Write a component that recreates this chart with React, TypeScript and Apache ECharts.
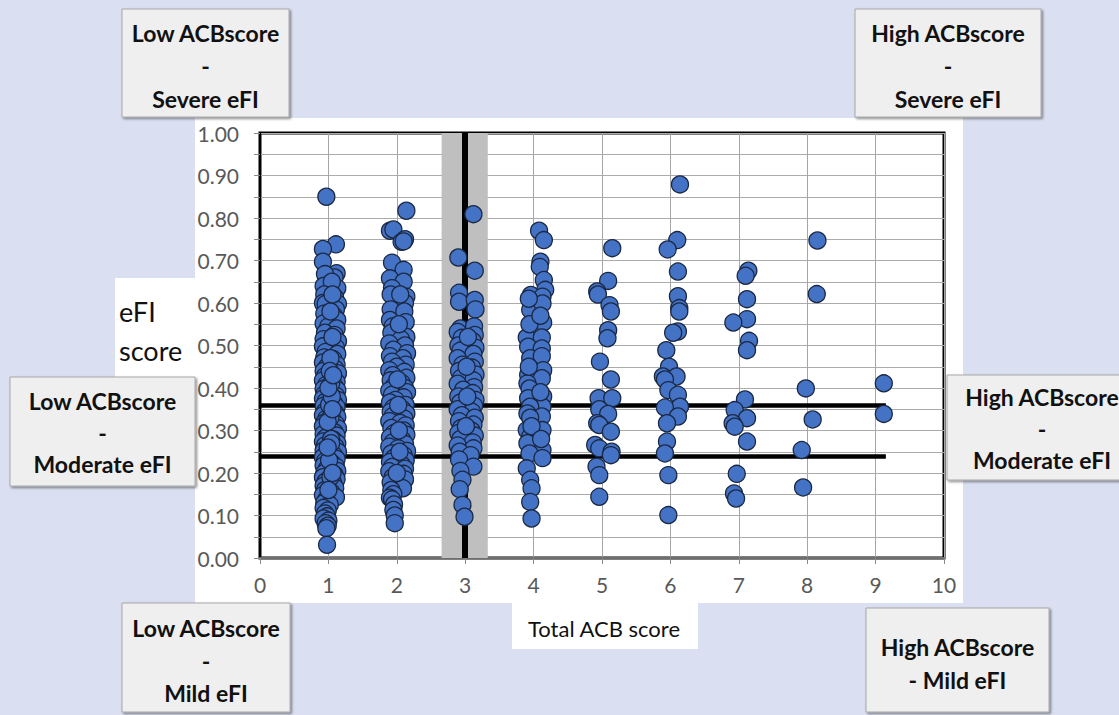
import React, { useEffect, useRef } from "react";
import * as echarts from "echarts";

// Total ACB score groups: [jittered x, eFI score]
const acb1: number[][] = [
  [0.97, 0.85], [1.11, 0.738], [0.92, 0.727], [0.92, 0.697], [1.12, 0.67], [1.09, 0.66], [0.95, 0.668], [0.93, 0.64],
  [1.13, 0.635], [1.05, 0.65], [0.94, 0.62], [1.1, 0.612], [0.92, 0.6], [0.96, 0.598], [1.14, 0.598], [1.11, 0.585],
  [0.94, 0.575], [1.08, 0.57], [1.13, 0.56], [0.93, 0.552], [1.0, 0.545], [1.12, 0.54], [0.95, 0.53], [1.09, 0.525],
  [0.93, 0.515], [1.14, 0.51], [1.02, 0.505], [0.92, 0.498], [1.11, 0.495], [0.96, 0.485], [1.13, 0.48], [0.94, 0.472],
  [1.07, 0.468], [0.92, 0.46], [1.12, 0.455], [0.98, 0.45], [1.1, 0.445], [0.93, 0.44], [1.14, 0.435], [0.95, 0.428],
  [1.05, 0.425], [0.92, 0.418], [1.12, 0.414], [0.97, 0.408], [1.09, 0.404], [0.93, 0.398], [1.13, 0.395], [1.01, 0.39],
  [0.94, 0.385], [1.11, 0.382], [0.92, 0.375], [1.14, 0.372], [0.96, 0.368], [1.08, 0.365], [0.93, 0.358], [1.12, 0.355],
  [1.0, 0.35], [0.95, 0.345], [1.1, 0.342], [0.92, 0.336], [1.13, 0.332], [0.97, 0.328], [1.06, 0.325], [0.94, 0.318],
  [1.11, 0.315], [0.92, 0.31], [1.14, 0.305], [0.99, 0.3], [1.09, 0.296], [0.93, 0.292], [1.12, 0.288], [0.96, 0.283],
  [1.07, 0.279], [0.92, 0.274], [1.13, 0.27], [0.95, 0.265], [1.1, 0.262], [1.02, 0.258], [0.93, 0.253], [1.14, 0.25],
  [0.97, 0.245], [1.08, 0.242], [0.92, 0.237], [1.12, 0.233], [0.95, 0.228], [1.05, 0.224], [0.93, 0.218], [1.11, 0.215],
  [0.98, 0.21], [1.13, 0.205], [0.94, 0.2], [1.09, 0.196], [0.92, 0.19], [1.12, 0.186], [0.96, 0.18], [1.07, 0.176],
  [0.93, 0.17], [1.1, 0.165], [0.95, 0.16], [1.04, 0.155], [0.92, 0.148], [1.11, 0.143], [0.97, 0.138], [0.94, 0.13],
  [1.02, 0.125], [0.93, 0.118], [0.99, 0.112], [0.95, 0.105], [0.98, 0.098], [0.93, 0.093], [1.0, 0.088], [0.96, 0.082],
  [0.99, 0.076], [0.97, 0.07], [0.98, 0.031], [1.03, 0.47], [1.04, 0.41], [1.01, 0.36], [1.03, 0.33], [1.04, 0.28],
  [1.01, 0.23], [1.03, 0.19], [1.05, 0.38], [1.02, 0.44], [1.06, 0.52], [1.03, 0.58], [1.06, 0.62], [1.04, 0.27],
  [0.99, 0.32], [1.06, 0.35], [1.0, 0.4], [1.07, 0.43], [0.99, 0.26], [1.06, 0.2], [1.0, 0.16],
];
const acb2: number[][] = [
  [2.14, 0.817], [1.9, 0.77], [1.95, 0.773], [2.07, 0.744], [2.12, 0.75], [2.1, 0.745], [1.93, 0.695], [2.1, 0.678],
  [1.9, 0.658], [2.1, 0.65], [1.93, 0.635], [2.14, 0.615], [1.91, 0.62], [2.12, 0.6], [1.91, 0.585], [2.11, 0.58],
  [1.9, 0.56], [2.13, 0.555], [1.94, 0.545], [2.14, 0.52], [1.92, 0.53], [2.06, 0.515], [1.89, 0.505], [2.12, 0.5],
  [1.95, 0.49], [2.15, 0.482], [1.9, 0.475], [2.09, 0.47], [1.93, 0.462], [2.13, 0.455], [2.0, 0.45], [1.89, 0.442],
  [2.11, 0.438], [1.94, 0.43], [2.14, 0.424], [1.91, 0.418], [2.07, 0.412], [1.96, 0.405], [2.12, 0.4], [1.89, 0.394],
  [2.15, 0.39], [1.93, 0.384], [2.1, 0.378], [1.98, 0.372], [1.9, 0.366], [2.13, 0.36], [1.95, 0.354], [2.08, 0.35],
  [1.91, 0.344], [2.14, 0.34], [1.94, 0.334], [2.11, 0.328], [1.89, 0.322], [2.05, 0.318], [2.13, 0.312], [1.92, 0.306],
  [2.1, 0.3], [1.96, 0.294], [2.14, 0.29], [1.9, 0.284], [2.08, 0.278], [1.94, 0.272], [2.12, 0.268], [1.89, 0.262],
  [2.02, 0.258], [2.15, 0.252], [1.92, 0.246], [2.1, 0.242], [1.96, 0.236], [2.13, 0.23], [1.9, 0.226], [2.07, 0.22],
  [1.93, 0.214], [2.12, 0.21], [1.89, 0.204], [2.1, 0.198], [1.94, 0.19], [2.12, 0.185], [1.91, 0.178], [2.09, 0.164],
  [1.92, 0.16], [1.95, 0.15], [1.9, 0.142], [1.93, 0.138], [1.96, 0.126], [1.95, 0.113], [1.97, 0.1], [1.97, 0.082],
  [2.02, 0.36], [2.03, 0.3], [2.04, 0.25], [2.01, 0.42], [2.03, 0.55], [2.05, 0.62], [2.0, 0.2],
];
const acb3: number[][] = [
  [3.12, 0.809], [2.9, 0.707], [3.14, 0.676], [2.91, 0.624], [2.91, 0.603], [3.14, 0.607], [3.15, 0.585], [2.93, 0.54],
  [3.13, 0.545], [2.89, 0.532], [3.14, 0.525], [2.95, 0.518], [3.11, 0.51], [2.9, 0.5], [3.15, 0.495], [2.93, 0.488],
  [3.12, 0.48], [2.89, 0.47], [3.14, 0.462], [2.96, 0.455], [3.1, 0.448], [2.91, 0.44], [3.15, 0.432], [2.94, 0.424],
  [3.12, 0.418], [2.89, 0.41], [3.13, 0.402], [2.97, 0.396], [3.11, 0.388], [2.9, 0.38], [3.15, 0.372], [2.93, 0.366],
  [3.13, 0.358], [2.89, 0.35], [3.1, 0.344], [2.95, 0.336], [3.14, 0.33], [2.91, 0.322], [3.12, 0.314], [2.94, 0.306],
  [3.09, 0.3], [2.9, 0.294], [3.14, 0.288], [2.93, 0.28], [3.11, 0.272], [2.89, 0.265], [3.12, 0.258], [2.92, 0.25],
  [3.08, 0.242], [2.91, 0.232], [3.12, 0.215], [2.93, 0.205], [2.96, 0.184], [2.92, 0.162], [2.96, 0.125], [2.99, 0.097],
  [3.02, 0.45], [3.03, 0.38], [3.01, 0.31], [3.04, 0.52],
];
const acb4: number[][] = [
  [4.08, 0.77], [4.15, 0.748], [4.1, 0.697], [4.09, 0.685], [4.15, 0.654], [4.17, 0.631], [3.96, 0.619], [4.13, 0.615],
  [3.95, 0.584], [4.13, 0.599], [4.14, 0.554], [3.9, 0.519], [4.12, 0.519], [3.92, 0.497], [4.12, 0.493], [3.95, 0.47],
  [4.12, 0.475], [4.14, 0.442], [3.92, 0.431], [4.12, 0.423], [3.91, 0.411], [3.94, 0.399], [4.14, 0.38], [3.92, 0.376],
  [4.13, 0.356], [3.95, 0.356], [3.91, 0.34], [4.12, 0.333], [3.95, 0.33], [3.9, 0.301], [4.13, 0.301], [3.95, 0.285],
  [3.91, 0.27], [4.13, 0.254], [3.94, 0.246], [4.13, 0.235], [3.9, 0.211], [3.95, 0.184], [3.97, 0.164], [3.95, 0.132],
  [3.97, 0.093], [3.93, 0.61], [3.94, 0.55], [4.1, 0.57], [3.93, 0.45], [4.1, 0.39], [3.97, 0.31], [4.11, 0.28],
];
const acb5: number[][] = [
  [5.15, 0.729], [5.09, 0.652], [4.93, 0.627], [4.94, 0.62], [5.11, 0.595], [5.13, 0.58], [5.09, 0.536], [5.08, 0.517],
  [4.97, 0.462], [5.13, 0.42], [4.95, 0.376], [5.15, 0.376], [4.96, 0.35], [5.09, 0.339], [4.93, 0.317], [4.96, 0.313],
  [5.13, 0.297], [4.9, 0.266], [4.96, 0.258], [5.14, 0.25], [5.13, 0.242], [4.92, 0.215], [4.96, 0.195], [4.96, 0.144],
];
const acb6: number[][] = [
  [6.14, 0.879], [6.1, 0.748], [5.96, 0.726], [6.11, 0.674], [6.11, 0.616], [6.13, 0.588], [6.13, 0.58], [6.11, 0.533],
  [6.04, 0.53], [5.94, 0.489], [5.98, 0.45], [5.89, 0.427], [6.09, 0.427], [5.92, 0.42], [5.97, 0.395], [6.11, 0.384],
  [6.14, 0.356], [5.92, 0.354], [6.11, 0.333], [5.95, 0.317], [5.95, 0.274], [5.92, 0.246], [5.97, 0.195], [5.97, 0.101],
];
const acb7: number[][] = [
  [7.14, 0.676], [7.1, 0.664], [7.12, 0.609], [7.12, 0.562], [6.92, 0.554], [7.15, 0.511], [7.12, 0.489], [7.09, 0.373],
  [6.94, 0.348], [7.12, 0.329], [6.91, 0.317], [6.94, 0.309], [7.12, 0.274], [6.97, 0.198], [6.93, 0.152], [6.96, 0.14],
];
const acb8: number[][] = [
  [8.15, 0.747], [8.14, 0.621], [7.98, 0.399], [8.08, 0.326], [7.92, 0.254], [7.94, 0.166],
];
const acb9: number[][] = [
  [9.12, 0.411], [9.12, 0.339],
];

const xTicks = [0, 1, 2, 3, 4, 5, 6, 7, 8, 9, 10];
const cutoffs = [0.36, 0.24];
const cutoffEndX = 9.15;
const acbThreshold = 3;
const bandRange = [2.655, 3.33];

const boxFont = "Lato, 'Open Sans', sans-serif";

function box(x: number, y: number, w: number, h: number, lines: string[], ys: number[]) {
  const cx = x + w / 2;
  return [
    {
      type: "rect",
      z: 100,
      shape: { x, y, width: w, height: h },
      style: {
        fill: "#efefef",
        stroke: "#a8a8a8",
        lineWidth: 1,
        shadowBlur: 2,
        shadowOffsetX: 1.5,
        shadowOffsetY: 1.5,
        shadowColor: "rgba(0,0,0,0.45)",
      },
    },
    ...lines.map((t, i) => ({
      type: "text",
      z: 101,
      x: cx,
      y: ys[i],
      style: {
        text: t,
        fill: "#111",
        font: `bold 23px ${boxFont}`,
        textAlign: "center",
        textVerticalAlign: "middle",
      },
    })),
  ];
}

export default function App() {
  const ref = useRef<HTMLDivElement>(null);
  useEffect(() => {
    if (!ref.current) return;
    const chart = echarts.init(ref.current, undefined, { renderer: "svg" });
    const allPoints = [...acb1, ...acb2, ...acb3, ...acb4, ...acb5, ...acb6, ...acb7, ...acb8, ...acb9];
    const graphics: any[] = [
      { type: "rect", z: -10, shape: { x: 195, y: 118, width: 768, height: 485 }, style: { fill: "#ffffff" } },
      { type: "rect", z: -10, shape: { x: 115, y: 278, width: 85, height: 100 }, style: { fill: "#ffffff" } },
      { type: "rect", z: -10, shape: { x: 512, y: 603, width: 186, height: 46 }, style: { fill: "#ffffff" } },
      {
        type: "text", z: 10, x: 119, y: 311,
        style: { text: "eFI", fill: "#111", font: `27px ${boxFont}`, textAlign: "left", textVerticalAlign: "middle" },
      },
      {
        type: "text", z: 10, x: 119, y: 350,
        style: { text: "score", fill: "#111", font: `27px ${boxFont}`, textAlign: "left", textVerticalAlign: "middle" },
      },
      {
        type: "text", z: 10, x: 604, y: 628,
        style: { text: "Total ACB score", fill: "#111", font: `22px ${boxFont}`, textAlign: "center", textVerticalAlign: "middle" },
      },
      ...box(122, 9, 167, 108, ["Low ACBscore", "-", "Severe eFI"], [33, 66, 99]),
      ...box(855, 9, 186, 108, ["High ACBscore", "-", "Severe eFI"], [33, 66, 99]),
      ...box(10, 377, 185, 109, ["Low ACBscore", "-", "Moderate eFI"], [401, 433, 464]),
      ...box(947, 375, 190, 105, ["High ACBscore", "-", "Moderate eFI"], [397, 429, 460]),
      ...box(122, 603, 168, 109, ["Low ACBscore", "-", "Mild eFI"], [628, 661, 693]),
      ...box(866, 608, 183, 104, ["High ACBscore", "- Mild eFI"], [647, 680]),
    ];
    chart.setOption({
      animation: false,
      backgroundColor: "#dae0f1",
      textStyle: { fontFamily: boxFont },
      grid: {
        left: 260, top: 133, right: 175, bottom: 157,
        show: true, borderColor: "#000", borderWidth: 3, backgroundColor: "transparent",
      },
      xAxis: {
        type: "value", min: 0, max: 10, interval: 1,
        axisLine: { show: true, onZero: false, lineStyle: { color: "#6f6f6f", width: 2 } },
        axisTick: { show: true, length: 6, lineStyle: { color: "#8a8a8a" } },
        axisLabel: {
          margin: 16, color: "#595959", fontSize: 21, fontFamily: boxFont,
          formatter: (v: number) => (xTicks.includes(v) ? String(v) : ""),
        },
        splitLine: { show: true, lineStyle: { color: "#a6a6a6", width: 1 } },
      },
      yAxis: {
        type: "value", min: 0, max: 1, interval: 0.05,
        axisLine: { show: true, lineStyle: { color: "#000", width: 2 } },
        axisTick: { show: true, length: 6, lineStyle: { color: "#8a8a8a" } },
        axisLabel: {
          margin: 21, color: "#595959", fontSize: 21, fontFamily: boxFont,
          formatter: (v: number) => (Math.round(v * 100) % 10 === 0 ? v.toFixed(2) : ""),
        },
        splitLine: { show: true, lineStyle: { color: "#ababab", width: 1 } },
      },
      series: [
        {
          type: "scatter",
          z: 1,
          data: [],
          silent: true,
          markArea: {
            silent: true,
            itemStyle: { color: "#bfbfbf" },
            data: [[{ xAxis: bandRange[0] }, { xAxis: bandRange[1] }]],
          },
          markLine: {
            silent: true,
            symbol: ["none", "none"],
            label: { show: false },
            lineStyle: { color: "#000", type: "solid", width: 4.5 },
            data: [
              ...cutoffs.map((c) => [
                { coord: [0, c], lineStyle: { color: "#000", type: "solid", width: 4.5 } },
                { coord: [cutoffEndX, c] },
              ]),
              { xAxis: acbThreshold, lineStyle: { color: "#000", type: "solid", width: 6 } },
            ],
          },
        },
        {
          type: "scatter",
          z: 5,
          data: allPoints,
          symbol: "circle",
          symbolSize: 17,
          itemStyle: { color: "#4472c4", borderColor: "#1a2844", borderWidth: 1.3, opacity: 1 },
        },
      ],
      graphic: graphics,
    });
    return () => chart.dispose();
  }, []);
  return <div ref={ref} style={{ position: "absolute", left: 0, top: 0, width: 1119, height: 715 }} />;
}
